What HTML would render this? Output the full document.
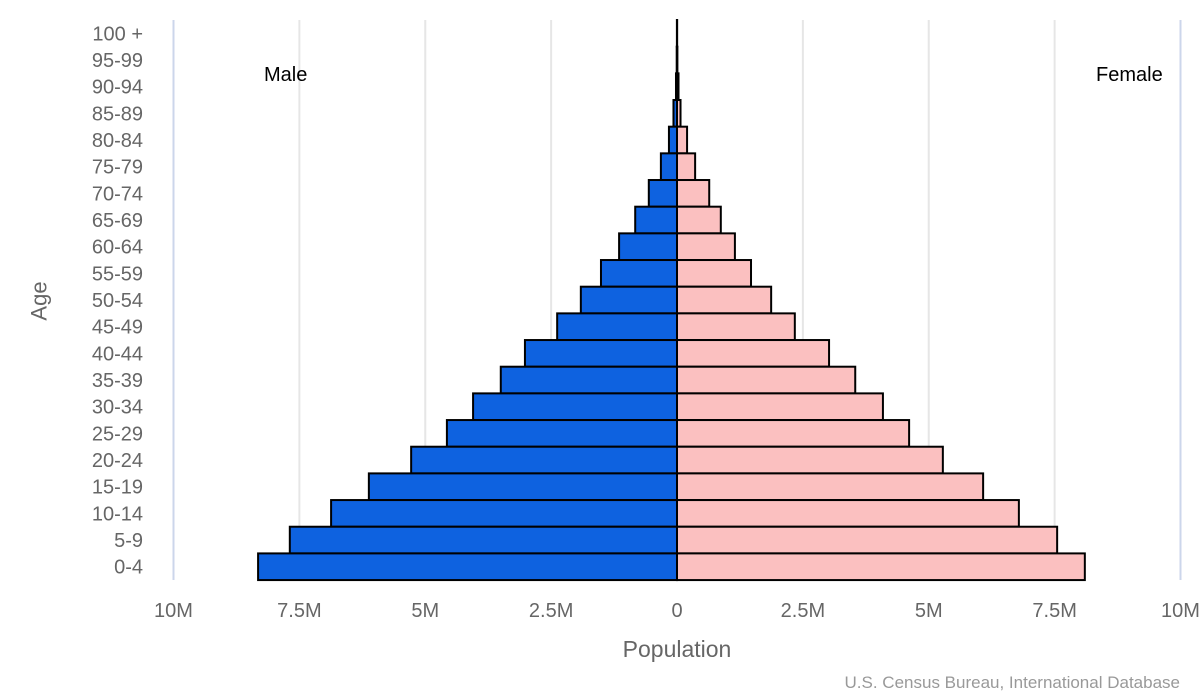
<!DOCTYPE html>
<html><head><meta charset="utf-8"><style>
html,body{margin:0;background:#fff;font-family:"Liberation Sans",sans-serif;width:1200px;height:700px;overflow:hidden;position:relative}
svg{display:block}
</style></head><body>
<svg id="c" width="1200" height="700" xmlns="http://www.w3.org/2000/svg"></svg>
<script>
const ages=["100 +","95-99","90-94","85-89","80-84","75-79","70-74","65-69","60-64","55-59","50-54","45-49","40-44","35-39","30-34","25-29","20-24","15-19","10-14","5-9","0-4"];
const male=[0.002,0.006,0.02,0.07,0.16,0.32,0.56,0.83,1.15,1.51,1.91,2.38,3.02,3.50,4.05,4.57,5.28,6.12,6.87,7.69,8.32];
const female=[0.003,0.008,0.03,0.07,0.20,0.36,0.64,0.87,1.15,1.47,1.87,2.34,3.02,3.54,4.09,4.61,5.28,6.08,6.79,7.55,8.10];
const ticks=[-10,-7.5,-5,-2.5,0,2.5,5,7.5,10];
const tickLabels=["10M","7.5M","5M","2.5M","0","2.5M","5M","7.5M","10M"];
const svgEl=document.getElementById('c');const NS="http://www.w3.org/2000/svg";
const x0=677,k=50.35,topY=20,rh=26.67;
const X=v=>x0+v*k, Y=i=>topY+i*rh;
function mk(t,a,txt){const e=document.createElementNS(NS,t);for(const n in a)e.setAttribute(n,a[n]);if(txt!=null)e.textContent=txt;svgEl.appendChild(e);return e;}
ticks.forEach((t,i)=>{
 const g=mk('line',{x1:X(t),x2:X(t),y1:topY,y2:580,stroke:Math.abs(t)==10?'#ccd6eb':'#e6e6e6','stroke-width':2});
 
 
 const l=mk('text',{x:X(t),y:617,'text-anchor':'middle','font-size':20,fill:'#666'},tickLabels[i]);
 
 
});
ages.forEach((a,i)=>{
 const l=mk('text',{x:143,y:Y(i)+rh/2+7,'text-anchor':'end','font-size':20,fill:'#666'},a);
 
 
 const m=mk('rect',{x:X(-male[i]),y:Y(i),width:male[i]*k,height:rh,fill:'#0e62e0',stroke:'#000','stroke-width':2});
 
 
 const f=mk('rect',{x:x0,y:Y(i),width:female[i]*k,height:rh,fill:'#fbc0c0',stroke:'#000','stroke-width':2});
 
 
});
const ax=mk('line',{x1:x0,x2:x0,y1:topY,y2:580,stroke:'#000','stroke-width':2});


</script>
<div style="position:absolute;left:264px;top:64px;font-size:20px;color:#000">Male</div>
<div style="position:absolute;left:1096px;top:64px;font-size:20px;color:#000">Female</div>
<div style="position:absolute;left:20px;top:288px;font-size:22px;color:#666;transform:rotate(-90deg);transform-origin:center">Age</div>
<div style="position:absolute;left:0;width:1354px;top:636px;text-align:center;font-size:23px;color:#666">Population</div>
<div style="position:absolute;right:20px;top:673px;font-size:17px;color:#999">U.S. Census Bureau, International Database</div>
</body></html>
